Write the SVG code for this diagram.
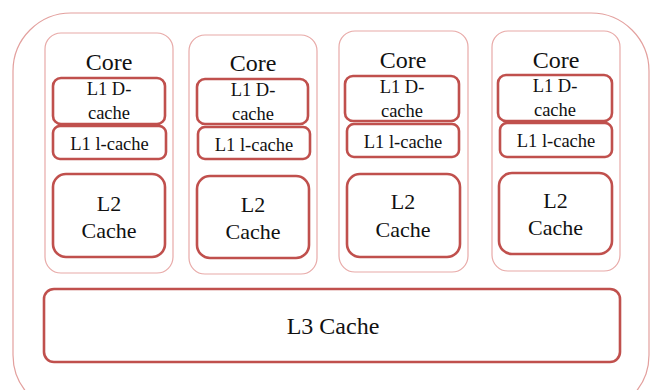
<svg xmlns="http://www.w3.org/2000/svg" width="652" height="390" viewBox="0 0 652 390">
<style>
.outer{fill:none;stroke:#E3A09E;stroke-width:1.2}
.core{fill:none;stroke:#E8AAA8;stroke-width:1.2}
.box{fill:#fff;stroke:#C0504D;stroke-width:2.6}
.t1{font-size:24px}
.t2{font-size:18.5px}
.t3{font-size:22px}
</style>
<rect width="652" height="390" fill="#fff"/>
<g id="chip"><rect class="outer" x="13" y="13" width="636" height="400" rx="58"/></g>
<g font-family="Liberation Serif, Times New Roman, serif" fill="#111" text-anchor="middle">
<g id="core1">
<rect class="core" x="45" y="33" width="128" height="240" rx="16"/>
<text class="t1" x="109" y="70">Core</text>
<rect class="box" x="53" y="78" width="112" height="46" rx="8"/>
<text class="t2" x="109" y="95">L1 D-</text><text class="t2" x="109" y="119">cache</text>
<rect class="box" x="53" y="126" width="113" height="33" rx="7"/>
<text class="t2" x="109.5" y="150">L1 l-cache</text>
<rect class="box" x="53" y="174" width="112" height="83" rx="13"/>
<text class="t3" x="109" y="211">L2</text><text class="t3" x="109" y="238">Cache</text>
</g>
<g id="core2">
<rect class="core" x="189" y="35" width="128" height="239" rx="16"/>
<text class="t1" x="253" y="71">Core</text>
<rect class="box" x="197" y="79" width="111" height="45" rx="8"/>
<text class="t2" x="253" y="96">L1 D-</text><text class="t2" x="253" y="120">cache</text>
<rect class="box" x="198" y="127" width="112" height="32" rx="7"/>
<text class="t2" x="254" y="151">L1 l-cache</text>
<rect class="box" x="197" y="176" width="112" height="82" rx="13"/>
<text class="t3" x="253" y="212">L2</text><text class="t3" x="253" y="239">Cache</text>
</g>
<g id="core3">
<rect class="core" x="339" y="31" width="129" height="241" rx="16"/>
<text class="t1" x="403" y="68">Core</text>
<rect class="box" x="345" y="76" width="114" height="45" rx="8"/>
<text class="t2" x="402" y="93">L1 D-</text><text class="t2" x="402" y="117">cache</text>
<rect class="box" x="347" y="124" width="112" height="33" rx="7"/>
<text class="t2" x="403" y="148">L1 l-cache</text>
<rect class="box" x="347" y="174" width="113" height="83" rx="13"/>
<text class="t3" x="403" y="209">L2</text><text class="t3" x="403" y="237">Cache</text>
</g>
<g id="core4">
<rect class="core" x="492" y="31" width="128" height="240" rx="16"/>
<text class="t1" x="556" y="68">Core</text>
<rect class="box" x="498" y="75" width="114" height="46" rx="8"/>
<text class="t2" x="555" y="92">L1 D-</text><text class="t2" x="555" y="116">cache</text>
<rect class="box" x="500" y="123" width="112" height="34" rx="7"/>
<text class="t2" x="556" y="147">L1 l-cache</text>
<rect class="box" x="499" y="173" width="113" height="81" rx="13"/>
<text class="t3" x="555.5" y="208">L2</text><text class="t3" x="555.5" y="235">Cache</text>
</g>
<g id="l3">
<rect class="box" x="44" y="289" width="576" height="73" rx="10"/>
<text class="t1" x="333" y="334">L3 Cache</text>
</g>
</g>
<g id="connectors"/>
</svg>
